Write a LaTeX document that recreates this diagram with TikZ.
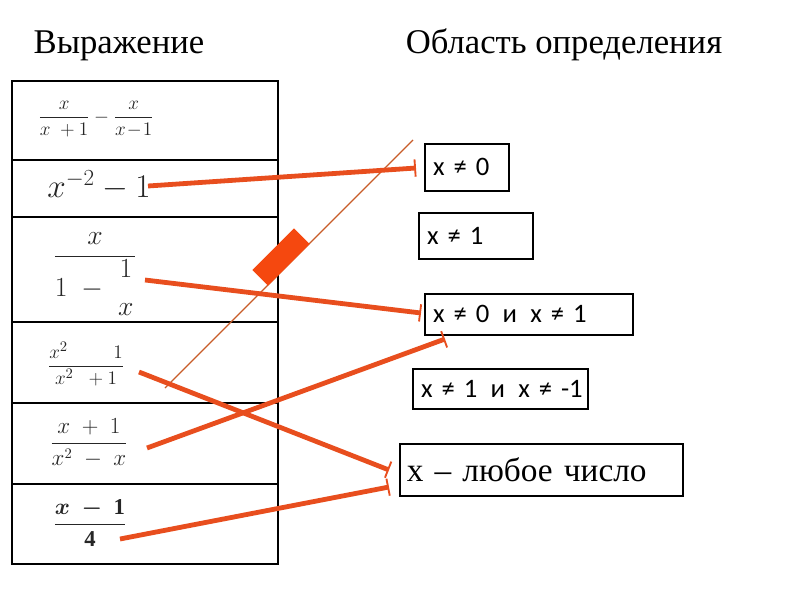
\documentclass[tikz,border=0pt]{standalone}
\usepackage{fontspec}
\usepackage{amsmath}
\setmainfont{Liberation Serif}
\newfontfamily\boxfont{Carlito}
\usetikzlibrary{arrows.meta}
\definecolor{clink}{RGB}{232,78,30}
\definecolor{cthin}{RGB}{200,92,40}
\definecolor{cmark}{RGB}{245,72,15}
\tikzset{
  x=0.75pt, y=-0.75pt,
  title/.style={font=\fontsize{26}{30}\selectfont, inner sep=0pt},
  expr/.style={inner sep=0pt, text=black!85},
  dombox/.style={draw=black, line width=1.3pt, font=\boxfont\fontsize{20}{24}\selectfont, anchor=north west, inner sep=0pt, align=left},
  linkarrow/.style={draw=clink, line width=3.6pt, -{Bar[width=13pt,line width=1.4pt]}},
  tbl/.style={line width=2pt}
}
\begin{document}
\begin{tikzpicture}
\useasboundingbox (0,0) rectangle (800,600);
% titles
\node[title, anchor=base] (t1) at (119,53) {Выражение};
\node[title, anchor=base] (t2) at (564,53) {Область определения};
% table
\draw[tbl] (12,81) rectangle (278,564);
\foreach \yy in {160,217,322,403,484} \draw[tbl] (12,\yy) -- (278,\yy);
% expressions
\node[expr, font=\fontsize{14}{16}\selectfont] (r1) at (96,119) {$\dfrac{x}{x\;+1}-\dfrac{x}{x\!-\!1}$};
\node[expr, font=\fontsize{25}{28}\selectfont] (r2) at (99,185) {$x^{-2}-1$};
\node[expr, font=\fontsize{20}{24}\selectfont] (r3) at (95,274) {$\dfrac{x}{1\;-\;\genfrac{}{}{0pt}{0}{1}{x}}$};
\node[expr, font=\fontsize{15}{18}\selectfont] (r4) at (86,364) {$\dfrac{x^{2}\qquad\; 1}{x^{2}\;\;+1}$};
\node[expr, font=\fontsize{16}{19}\selectfont] (r5) at (89,443) {$\dfrac{x\;+\;1}{x^{2}\;-\;x}$};
\node[expr, font=\fontsize{17}{20}\selectfont] (r6) at (90,523) {$\dfrac{\boldsymbol{x}\;\boldsymbol{-}\;\mathbf{1}}{\mathbf{4}}$};
% domain boxes
\node[dombox, minimum width=84*0.75pt, minimum height=47*0.75pt, text width=78*0.75pt] (b1) at (424,143) {\hspace*{4pt}x\,\,≠ 0};
\node[dombox, minimum width=114*0.75pt, minimum height=46*0.75pt, text width=108*0.75pt] (b2) at (418,212) {\hspace*{4pt}x ≠\,\,1};
\node[dombox, minimum width=208*0.75pt, minimum height=41*0.75pt, text width=202*0.75pt] (b3) at (424,293) {\hspace*{4pt}x ≠ 0\,\,\,и\,\,\,x ≠\,\,1};
\node[dombox, minimum width=175*0.75pt, minimum height=40*0.75pt, text width=169*0.75pt] (b4) at (412,368) {\hspace*{4pt}x ≠ 1\,\,\,и\,\,\,x ≠ -1};
\node[dombox, font=\fontsize{25}{29}\selectfont, minimum width=283*0.75pt, minimum height=52*0.75pt, text width=277*0.75pt] (b5) at (399,443) {\hspace*{3pt}x – любое число};
% thin diagonal line with marker
\coordinate (d1) at (165,388);
\coordinate (d2) at (413,140);
\draw[draw=cthin, line width=0.9pt] (d1) -- (d2);
\node[fill=cmark, rotate=45, minimum width=59*0.75pt, minimum height=22*0.75pt, inner sep=0pt] (mk) at (281,257) {};
% connectors
\coordinate (s1) at (148,186); \coordinate (e1) at (416,168);
\coordinate (s2) at (145,280); \coordinate (e2) at (421,313);
\coordinate (s3) at (139,372); \coordinate (e3) at (389,470);
\coordinate (s4) at (147,448); \coordinate (e4) at (445,339);
\coordinate (s5) at (120,539); \coordinate (e5) at (389,487);
\draw[linkarrow] (s1) -- (e1);
\draw[linkarrow] (s2) -- (e2);
\draw[linkarrow] (s3) -- (e3);
\draw[linkarrow] (s4) -- (e4);
\draw[linkarrow] (s5) -- (e5);
\end{tikzpicture}
\end{document}
